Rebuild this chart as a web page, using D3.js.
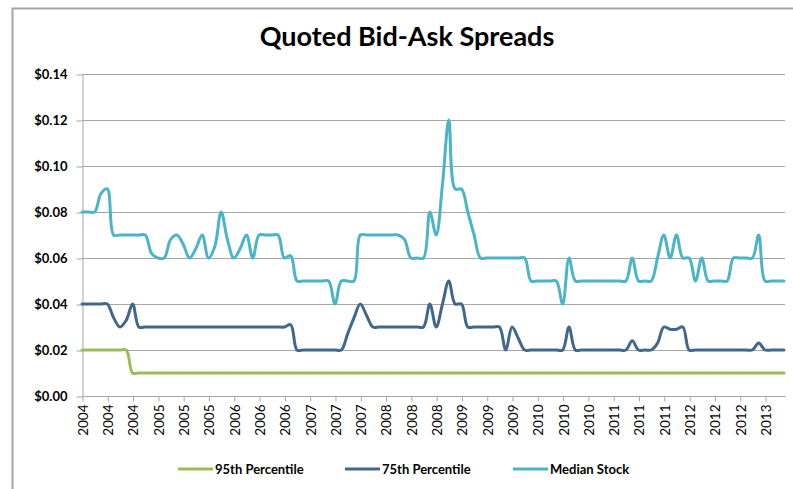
<!DOCTYPE html>
<html>
<head>
<meta charset="utf-8">
<script src="https://cdn.jsdelivr.net/npm/d3@7"></script>
<style>
  html, body { margin: 0; padding: 0; background: #fff; }
  svg { display: block; }
  text { font-family: Lato, "Open Sans", sans-serif; fill: #000; }
</style>
</head>
<body>
<svg id="chart" width="793" height="489"></svg>
<script>
// Monthly quoted spreads, Jan 2004 – Apr 2013 (one row per year)
const p95 = [
  0.02, 0.02, 0.02, 0.02, 0.02, 0.02, 0.02, 0.02, 0.01, 0.01, 0.01, 0.01,
  0.01, 0.01, 0.01, 0.01, 0.01, 0.01, 0.01, 0.01, 0.01, 0.01, 0.01, 0.01,
  0.01, 0.01, 0.01, 0.01, 0.01, 0.01, 0.01, 0.01, 0.01, 0.01, 0.01, 0.01,
  0.01, 0.01, 0.01, 0.01, 0.01, 0.01, 0.01, 0.01, 0.01, 0.01, 0.01, 0.01,
  0.01, 0.01, 0.01, 0.01, 0.01, 0.01, 0.01, 0.01, 0.01, 0.01, 0.01, 0.01,
  0.01, 0.01, 0.01, 0.01, 0.01, 0.01, 0.01, 0.01, 0.01, 0.01, 0.01, 0.01,
  0.01, 0.01, 0.01, 0.01, 0.01, 0.01, 0.01, 0.01, 0.01, 0.01, 0.01, 0.01,
  0.01, 0.01, 0.01, 0.01, 0.01, 0.01, 0.01, 0.01, 0.01, 0.01, 0.01, 0.01,
  0.01, 0.01, 0.01, 0.01, 0.01, 0.01, 0.01, 0.01, 0.01, 0.01, 0.01, 0.01,
  0.01, 0.01, 0.01, 0.01
];

const p75 = [
  0.04, 0.04, 0.04, 0.04, 0.04, 0.034, 0.03, 0.033, 0.04, 0.03, 0.03, 0.03,
  0.03, 0.03, 0.03, 0.03, 0.03, 0.03, 0.03, 0.03, 0.03, 0.03, 0.03, 0.03,
  0.03, 0.03, 0.03, 0.03, 0.03, 0.03, 0.03, 0.03, 0.03, 0.031, 0.02, 0.02,
  0.02, 0.02, 0.02, 0.02, 0.02, 0.02, 0.027, 0.034, 0.04, 0.035, 0.03, 0.03,
  0.03, 0.03, 0.03, 0.03, 0.03, 0.03, 0.03, 0.04, 0.03, 0.04, 0.05, 0.04,
  0.04, 0.03, 0.03, 0.03, 0.03, 0.03, 0.03, 0.02, 0.03, 0.025, 0.02, 0.02,
  0.02, 0.02, 0.02, 0.02, 0.02, 0.03, 0.02, 0.02, 0.02, 0.02, 0.02, 0.02,
  0.02, 0.02, 0.02, 0.024, 0.02, 0.02, 0.02, 0.023, 0.03, 0.029, 0.029, 0.03,
  0.02, 0.02, 0.02, 0.02, 0.02, 0.02, 0.02, 0.02, 0.02, 0.02, 0.02, 0.023,
  0.02, 0.02, 0.02, 0.02
];

const median = [
  0.08, 0.08, 0.08, 0.088, 0.09, 0.07, 0.07, 0.07, 0.07, 0.07, 0.07, 0.062,
  0.06, 0.06, 0.068, 0.07, 0.066, 0.06, 0.064, 0.07, 0.06, 0.065, 0.08, 0.068,
  0.06, 0.064, 0.07, 0.06, 0.07, 0.07, 0.07, 0.07, 0.06, 0.061, 0.05, 0.05,
  0.05, 0.05, 0.05, 0.05, 0.04, 0.05, 0.05, 0.05, 0.07, 0.07, 0.07, 0.07,
  0.07, 0.07, 0.07, 0.068, 0.06, 0.06, 0.06, 0.08, 0.07, 0.092, 0.12, 0.09,
  0.09, 0.08, 0.07, 0.06, 0.06, 0.06, 0.06, 0.06, 0.06, 0.06, 0.06, 0.05,
  0.05, 0.05, 0.05, 0.05, 0.04, 0.06, 0.05, 0.05, 0.05, 0.05, 0.05, 0.05,
  0.05, 0.05, 0.05, 0.06, 0.05, 0.05, 0.05, 0.06, 0.07, 0.06, 0.07, 0.06,
  0.06, 0.05, 0.06, 0.05, 0.05, 0.05, 0.05, 0.06, 0.06, 0.06, 0.06, 0.07,
  0.05, 0.05, 0.05, 0.05
];

// Axis labels: one every four months
const tickLabels = [
  "2004", "2004", "2004", "2005", "2005", "2005", "2006", "2006", "2006",
  "2007", "2007", "2007", "2008", "2008", "2008", "2009", "2009", "2009",
  "2010", "2010", "2010", "2011", "2011", "2011", "2012", "2012", "2012", "2013"
];
const yTicks = [0, 0.02, 0.04, 0.06, 0.08, 0.10, 0.12, 0.14];

const seriesNames = ["95th Percentile", "75th Percentile", "Median Stock"];
const seriesColors = ["#9bbb59", "#41678b", "#4bb4c7"];
const seriesValues = [p95, p75, median];

const svg = d3.select("#chart");
const W = 793, H = 489;
const plot = { left: 82, right: 785, top: 74, bottom: 396 };

// chart-area frame
svg.append("path")
  .attr("d", `M12.5,${H} V8.5 H${W}`)
  .attr("fill", "none")
  .attr("stroke", "#a5a5a5")
  .attr("stroke-width", 2);

// title
svg.append("text")
  .attr("x", 407).attr("y", 46)
  .attr("text-anchor", "middle")
  .style("font-size", "27px")
  .style("font-weight", 700)
  .text("Quoted Bid-Ask Spreads");

const x = d3.scaleLinear().domain([0, median.length - 1]).range([plot.left, 784]);
const y = d3.scaleLinear().domain([0, 0.14]).range([plot.bottom, plot.top]);

// horizontal gridlines
svg.append("g")
  .selectAll("line")
  .data(yTicks.slice(1))
  .join("line")
  .attr("x1", plot.left).attr("x2", plot.right)
  .attr("y1", d => Math.round(y(d)) + 0.5).attr("y2", d => Math.round(y(d)) + 0.5)
  .attr("stroke", "#a6a6a6").attr("stroke-width", 1);

// y axis
const yAxis = svg.append("g")
  .attr("transform", `translate(${plot.left + 0.5},0.5)`)
  .call(d3.axisLeft(y).tickValues(yTicks).tickFormat(d3.format("$.2f")).tickSizeInner(6).tickSizeOuter(0).tickPadding(9));
yAxis.selectAll("path, line").attr("stroke", "#a6a6a6");
yAxis.selectAll("text")
  .style("font-family", "Lato, sans-serif")
  .style("font-size", "13px")
  .style("font-weight", 700)
  .attr("fill", "#000");

// x axis
const tickIdx = tickLabels.map((_, i) => i * 4);
const xAxis = svg.append("g")
  .attr("transform", `translate(0.5,${plot.bottom + 0.5})`)
  .call(d3.axisBottom(x).tickValues(tickIdx).tickFormat((d, i) => tickLabels[i]).tickSizeInner(5).tickSizeOuter(0));
xAxis.select(".domain").attr("d", `M${plot.left},0H${plot.right}`).attr("stroke", "#a6a6a6");
xAxis.selectAll("line").attr("stroke", "#a6a6a6");
xAxis.selectAll("text")
  .attr("transform", "rotate(-90)")
  .attr("text-anchor", "end")
  .attr("x", -8).attr("y", 0).attr("dy", "0.36em")
  .style("font-family", "Lato, sans-serif")
  .style("font-size", "13.5px")
  .style("font-weight", 400)
  .attr("fill", "#000");

// series lines
const line = d3.line()
  .x((d, i) => x(i))
  .y(d => y(d))
  .curve(d3.curveCatmullRom.alpha(0.5));

svg.append("g")
  .selectAll("path")
  .data(seriesValues)
  .join("path")
  .attr("d", d => line(d))
  .attr("fill", "none")
  .attr("stroke", (d, i) => seriesColors[i])
  .attr("stroke-width", 3)
  .attr("stroke-linejoin", "round")
  .attr("stroke-linecap", "round");

// legend
const legendX = [178, 345, 513];
const legend = svg.append("g").attr("transform", "translate(0,469)");
const item = legend.selectAll("g")
  .data(seriesNames)
  .join("g")
  .attr("transform", (d, i) => `translate(${legendX[i]},0)`);
item.append("line")
  .attr("x1", 0).attr("x2", 35).attr("y1", 0).attr("y2", 0)
  .attr("stroke", (d, i) => seriesColors[i])
  .attr("stroke-width", 3);
item.append("text")
  .attr("x", 37).attr("y", 0).attr("dy", "0.35em")
  .style("font-size", "13px")
  .style("font-weight", 700)
  .text(d => d);
</script>
</body>
</html>
